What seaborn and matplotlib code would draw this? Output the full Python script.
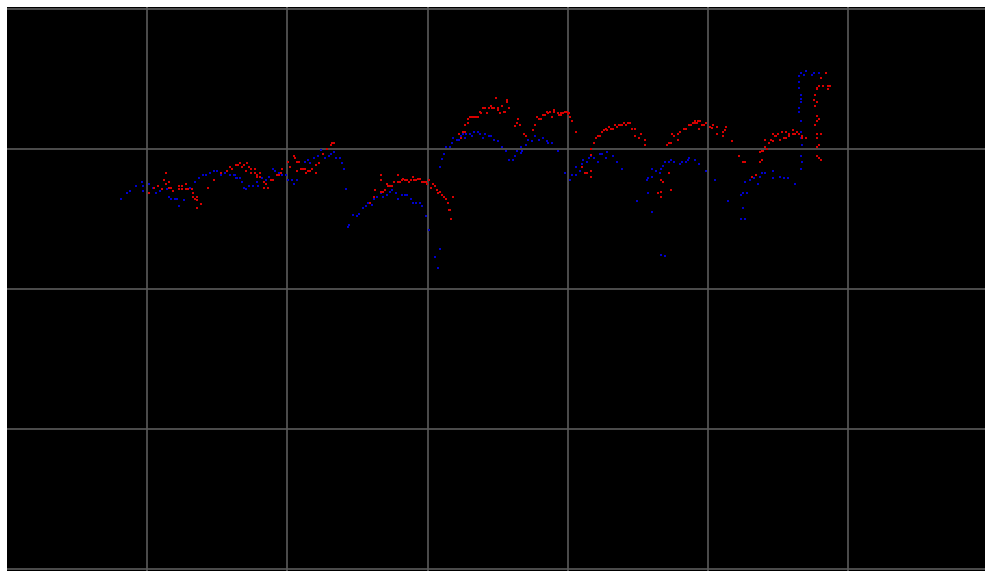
import numpy as np
import pandas as pd
import seaborn as sns
import matplotlib
matplotlib.use("Agg")
import matplotlib.pyplot as plt

# blue series (x, y)
blue_x = [114, 120, 123, 129, 135, 136, 136, 142, 146, 149, 153, 160, 162, 164, 168, 170, 172, 177, 183, 188,
          192, 196, 199, 203, 207, 210, 214, 218, 223, 227, 229, 233,
          228, 230, 235, 237, 239, 242, 246, 250, 251, 255, 259, 262, 266, 268, 272, 275, 279, 281, 285,
          287, 290, 298, 301, 303, 307, 311, 314, 318, 322, 324, 327, 329, 333, 335, 337, 339, 346,
          341, 342, 350, 352, 356, 359, 361, 365, 367, 370, 374, 376, 380, 383, 385, 389, 391, 395, 398,
          400, 404, 406, 409, 413, 415, 419, 422, 428, 431, 433, 433, 435,
          437, 439, 443, 445, 446, 450, 452, 454, 456, 458, 459, 463, 465, 467, 471, 473, 476, 478, 482,
          484, 487, 491, 495, 499, 502, 506, 508, 510, 514, 514, 515, 519, 521, 525, 528, 532, 536, 540,
          541, 545, 551, 558,
          563, 565, 569, 569, 573, 575, 576, 580, 582, 584, 587, 591, 593, 595, 599, 600, 606, 610, 615,
          630, 641, 645, 640, 641, 645, 645, 649, 653, 654, 656, 658, 662, 664, 667, 673, 675, 679, 681,
          682, 688, 692, 654, 658,
          699, 708, 721, 734, 736, 740, 738, 743, 747, 751, 753, 755, 758, 766, 766, 773, 777, 781, 788,
          736, 734, 738, 794, 795, 794, 795, 794, 794, 794, 792, 792, 794, 794, 794, 792, 792, 792, 794,
          797, 799, 805, 807, 812]
blue_y = [371, 377, 379, 384, 388, 384, 379, 386, 382, 377, 379, 381, 373, 371, 371, 371, 364, 370, 382, 388,
          392, 395, 395, 397, 399, 399, 395, 397, 395, 395, 392, 392,
          395, 392, 388, 382, 381, 384, 384, 388, 384, 392, 390, 393, 401, 399, 397, 395, 395, 390, 390,
          386, 390, 408, 410, 407, 412, 414, 420, 412, 414, 416, 418, 412, 412, 407, 401, 381, 355,
          343, 345, 354, 356, 362, 364, 367, 365, 371, 373, 377, 373, 375, 378, 380, 377, 371, 375, 375,
          375, 371, 367, 367, 367, 364, 354, 340, 313, 302, 321, 403, 411,
          416, 423, 423, 427, 432, 430, 430, 434, 436, 432, 436, 436, 434, 438, 438, 436, 432, 436, 434,
          434, 430, 429, 423, 419, 410, 410, 414, 419, 423, 417, 419, 425, 430, 429, 434, 430, 432, 429,
          427, 427, 419, 397,
          390, 395, 403, 395, 399, 406, 410, 408, 412, 414, 412, 408, 416, 416, 412, 418, 414, 408, 401,
          369, 377, 358, 390, 392, 401, 393, 399, 397, 401, 404, 408, 408, 410, 408, 406, 408, 408, 410,
          412, 410, 406, 315, 314,
          399, 390, 369, 375, 377, 377, 388, 390, 392, 386, 393, 397, 397, 399, 392, 393, 392, 392, 386,
          362, 351, 351, 401, 408, 414, 425, 432, 438, 449, 458, 462, 468, 471, 475, 482, 488, 494, 497,
          495, 499, 495, 497, 497]

# red series (x, y)
red_x = [142, 147, 151, 155, 157, 159, 159, 162, 162, 164, 166, 172, 172, 175, 175, 179, 179, 181, 185, 186,
         186, 188, 190, 190, 190, 194, 201, 207, 214, 220, 223, 225, 229, 231,
         233, 235, 237, 240, 239, 242, 244, 244, 248, 248, 250, 250, 253, 253, 257, 257, 259, 261, 264,
         266, 270, 272, 274, 275, 281, 283, 287, 288, 290, 292, 290, 294, 296, 298, 299, 301, 303, 305,
         309, 309, 312, 316, 320, 324, 325, 327,
         363, 367, 368, 374, 374, 374, 376, 378, 380, 381, 383, 385, 387, 391, 391, 393, 395, 396, 398,
         400, 402, 404, 406, 407, 409, 411, 413, 415, 417, 419, 420, 422, 424, 426, 428, 430, 431, 433,
         435, 437, 439, 441, 442, 443, 444, 446,
         452, 454, 456, 458, 458, 461, 461, 463, 465, 467, 469, 471, 473, 474, 476, 478, 480, 482, 484,
         485, 487, 489, 491, 491, 493, 495, 497, 498, 500, 500, 502, 508, 510, 511, 513, 517, 519, 526,
         528, 530, 532, 534, 536, 538, 540, 541, 543, 545, 547, 547, 551, 552, 554, 556, 558, 560, 562,
         554, 561, 563, 565, 569, 584, 584, 575, 578, 580, 584, 584, 587, 589, 591, 593, 595, 597, 599,
         600, 602, 604, 606, 608, 610, 612, 614, 615, 617, 619, 621, 623, 625, 628, 628, 632, 634, 638,
         638, 660, 662, 664, 665, 667, 671, 671, 673, 677, 679, 682, 684, 688, 692, 654, 656, 662, 664,
         654, 654, 651,
         686, 688, 690, 691, 693, 695, 697, 699, 703, 705, 706, 710, 710, 716, 716, 718, 719, 725, 732,
         736, 738, 745, 749, 753, 755, 753, 755, 756, 758, 760, 762, 758, 764, 766, 766, 768, 769, 771,
         773, 775, 777, 779, 779, 782, 782, 786, 786, 788, 790, 792, 795, 795, 799, 810, 810, 814, 810,
         812, 810, 812, 814, 808, 810, 812, 810, 808, 810, 807, 808, 810, 810, 812, 816, 821, 823, 821,
         814, 819]
red_y = [377, 382, 384, 381, 390, 397, 386, 388, 382, 382, 379, 384, 381, 384, 381, 386, 381, 381, 381, 377,
         373, 371, 370, 373, 362, 366, 382, 390, 397, 399, 403, 401, 405, 405,
         407, 403, 405, 407, 399, 403, 401, 397, 401, 397, 395, 393, 397, 393, 388, 382, 386, 382, 390,
         390, 395, 395, 397, 401, 408, 403, 414, 412, 408, 408, 399, 401, 401, 401, 397, 399, 399, 401,
         397, 405, 407, 416, 421, 425, 427, 427,
         367, 373, 380, 378, 390, 395, 378, 380, 386, 384, 384, 384, 388, 395, 388, 388, 390, 391, 390,
         390, 388, 390, 393, 390, 390, 391, 391, 388, 388, 388, 386, 390, 382, 386, 384, 380, 377, 378,
         375, 373, 371, 367, 360, 360, 351, 373,
         436, 432, 438, 438, 445, 451, 447, 453, 453, 453, 453, 453, 458, 457, 462, 462, 457, 462, 464,
         462, 462, 472, 462, 460, 457, 464, 458, 458, 470, 468, 462, 444, 447, 451, 445, 436, 434, 440,
         445, 453, 451, 451, 455, 455, 458, 457, 458, 453, 460, 458, 457, 455, 457, 457, 458, 458, 457,
         455, 456, 453, 449, 438, 421, 415, 403, 397, 397, 399, 393, 427, 432, 434, 434, 438, 440, 441,
         440, 443, 441, 441, 445, 443, 445, 445, 445, 447, 445, 447, 447, 441, 441, 434, 432, 436, 430,
         425, 425, 427, 427, 436, 434, 430, 436, 438, 441, 441, 445, 445, 447, 441, 390, 388, 397, 380,
         378, 373, 377,
         447, 449, 447, 449, 449, 445, 445, 447, 443, 442, 445, 443, 436, 434, 438, 440, 443, 429, 414,
         408, 408, 393, 395, 408, 410, 418, 419, 419, 423, 421, 427, 430, 430, 429, 436, 434, 434, 436,
         430, 438, 432, 432, 438, 436, 434, 440, 436, 436, 438, 436, 434, 432, 432, 436, 432, 436, 423,
         425, 414, 412, 410, 445, 449, 451, 454, 464, 468, 470, 475, 481, 482, 484, 484, 484, 484, 481,
         492, 497]

blue = pd.DataFrame({"x": blue_x, "y": blue_y})
red = pd.DataFrame({"x": red_x, "y": red_y})

sns.set_style("dark")
fig = plt.figure(figsize=(9.85, 5.72), dpi=100, facecolor="white")
ax = fig.add_axes([7 / 985, 1 / 572, 978 / 985, 564 / 572])
ax.set_facecolor("black")

sns.scatterplot(data=blue, x="x", y="y", ax=ax, color="#0000cc", marker="s", s=3.5, linewidth=0)
sns.scatterplot(data=red, x="x", y="y", ax=ax, color="#d80000", marker="s", s=3.5, linewidth=0)

ax.set_xlim(0, 978)
ax.set_ylim(-2, 563)
ax.set_xticks([140, 280, 421, 561, 701, 841])
ax.set_yticks([0, 140, 281, 421, 561])
ax.grid(True, color="#5a5a5a", linewidth=1.2)
ax.set_axisbelow(True)
ax.tick_params(length=0, labelbottom=False, labelleft=False)
ax.set_xlabel("")
ax.set_ylabel("")
for sp in ax.spines.values():
    sp.set_visible(False)

fig.savefig("out.png", dpi=100, facecolor="white")
